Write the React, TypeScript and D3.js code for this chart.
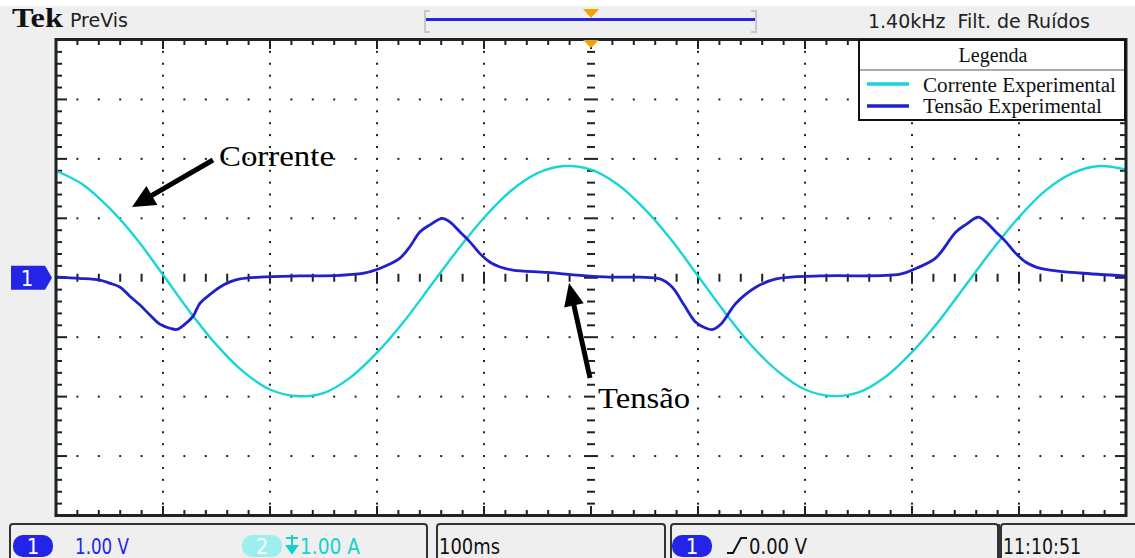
import React from "react";
import * as d3 from "d3";

// ---- data (time in ms across 10 divisions of 100 ms, amplitude in divisions) ----
const currentTime = [0, 25, 50, 75, 100, 125, 150, 175, 200, 225, 250, 275, 300, 325, 350, 375, 400, 425, 450, 475, 500, 525, 550, 575, 600, 625, 650, 675, 700, 725, 750, 775, 800, 825, 850, 875, 900, 925, 950, 975, 1000];
const currentValue = [1.80, 1.57, 1.17, 0.66, 0.05, -0.57, -1.13, -1.58, -1.88, -1.99, -1.94, -1.68, -1.26, -0.74, -0.14, 0.46, 1.01, 1.46, 1.76, 1.88, 1.82, 1.57, 1.16, 0.64, 0.03, -0.58, -1.14, -1.58, -1.88, -1.99, -1.93, -1.67, -1.25, -0.73, -0.13, 0.47, 1.02, 1.47, 1.76, 1.88, 1.82];

const voltageTime = [1, 22, 41, 50, 60, 69, 78.5, 88, 97, 106.5, 113, 120.5, 128, 134.5, 144, 153, 162.6, 172, 190.7, 228, 265, 289, 303, 312, 321.5, 331, 340, 349.5, 361, 368, 377.6, 387, 396, 405.6, 415, 427, 459, 490, 518, 546, 564.5, 576, 587, 598, 607.5, 614, 621.5, 635.5, 654, 673, 714, 789, 804, 822, 841, 850, 862, 869, 878.5, 888, 897, 906.5, 916, 929, 957, 999];
const voltageValue = [0.01, -0.01, -0.04, -0.09, -0.16, -0.31, -0.46, -0.63, -0.78, -0.85, -0.87, -0.78, -0.65, -0.43, -0.28, -0.16, -0.07, -0.02, 0.01, 0.03, 0.04, 0.08, 0.16, 0.23, 0.33, 0.53, 0.77, 0.89, 1.0, 0.94, 0.77, 0.6, 0.41, 0.26, 0.18, 0.13, 0.09, 0.04, 0.01, 0.01, -0.02, -0.16, -0.46, -0.75, -0.85, -0.87, -0.78, -0.43, -0.16, -0.02, 0.03, 0.06, 0.16, 0.33, 0.77, 0.89, 1.02, 0.94, 0.77, 0.6, 0.41, 0.26, 0.18, 0.13, 0.08, 0.03];

const seriesNames = ["Corrente Experimental", "Tensão Experimental"];
const legendTitle = "Legenda";
const headerLeft = "PreVis";
const headerRight = "1.40kHz  Filt. de Ruídos";
const ch1Scale = "1.00 V";
const ch2Scale = "1.00 A";
const timeBase = "100ms";
const triggerLevel = "0.00 V";
const clock = "11:10:51";

const CYAN = "#18d6d6";
const BLUE = "#2020cc";
const TEK_BLUE = "#2424e8";
const FRAME = "#1b2323";
const UI_FONT = "'Liberation Sans Narrow', 'DejaVu Sans Condensed', 'DejaVu Sans', sans-serif";
const SERIF = "'Liberation Serif', 'DejaVu Serif', serif";

const W = 1135;
const H = 558;

export default function App() {
  const x = d3.scaleLinear().domain([0, 1000]).range([56, 1126]);
  const y = d3.scaleLinear().domain([-4, 4]).range([515.5, 40]);

  const curData = currentTime.map((t, i) => [t, currentValue[i]] as [number, number]);
  const volData = voltageTime.map((t, i) => [t, voltageValue[i]] as [number, number]);
  const line = d3
    .line<[number, number]>()
    .x((d) => x(d[0]))
    .y((d) => y(d[1]))
    .curve(d3.curveCatmullRom.alpha(0.5));

  const majorT = d3.range(0, 1001, 100);
  const majorV = d3.range(-4, 4.01, 1);
  const minorT = d3.range(0, 1000.1, 20);
  const minorV = d3.range(-4, 4.001, 0.2).map((v) => Math.round(v * 10) / 10);

  const dots: JSX.Element[] = [];
  majorT.slice(1, -1).forEach((t) => {
    if (t === 500) return;
    minorV.slice(1, -1).forEach((v, j) => {
      dots.push(<rect key={`vd${t}-${j}`} x={x(t) - 1} y={y(v) - 1} width={2} height={2} fill="#222" />);
    });
  });
  majorV.slice(1, -1).forEach((v) => {
    if (v === 0) return;
    minorT.slice(1, -1).forEach((t, j) => {
      if (t % 100 === 0) return;
      dots.push(<rect key={`hd${v}-${j}`} x={x(t) - 1} y={y(v) - 1} width={2} height={2} fill="#222" />);
    });
  });

  const ticks: JSX.Element[] = [];
  minorT.slice(1, -1).forEach((t, j) => {
    const major = t % 100 === 0;
    const len = major ? 9 : 5;
    ticks.push(<line key={`tt${j}`} x1={x(t)} x2={x(t)} y1={40} y2={40 + len} stroke={FRAME} strokeWidth={2} />);
    ticks.push(<line key={`tb${j}`} x1={x(t)} x2={x(t)} y1={515} y2={515 - len} stroke={FRAME} strokeWidth={2} />);
    if (t !== 500) {
      ticks.push(<line key={`tc${j}`} x1={x(t)} x2={x(t)} y1={y(0) - (major ? 6 : 4)} y2={y(0) + (major ? 6 : 4)} stroke={FRAME} strokeWidth={2} />);
    }
  });
  minorV.slice(1, -1).forEach((v, j) => {
    const major = Math.abs(v - Math.round(v)) < 1e-6;
    const len = major ? 10 : 5;
    ticks.push(<line key={`tl${j}`} x1={57} x2={57 + len} y1={y(v)} y2={y(v)} stroke={FRAME} strokeWidth={2} />);
    ticks.push(<line key={`tr${j}`} x1={1125} x2={1125 - len} y1={y(v)} y2={y(v)} stroke={FRAME} strokeWidth={2} />);
    ticks.push(<line key={`tv${j}`} x1={x(500) - (major ? 7 : 4)} x2={x(500) + (major ? 7 : 4)} y1={y(v)} y2={y(v)} stroke={FRAME} strokeWidth={2} />);
  });

  const arrow = (x0: number, y0: number, x1: number, y1: number, hl: number, hw: number) => {
    const dx = x1 - x0, dy = y1 - y0;
    const L = Math.hypot(dx, dy);
    const ux = dx / L, uy = dy / L;
    const bx = x1 - ux * hl, by = y1 - uy * hl;
    const px = -uy, py = ux;
    const p = d3.path();
    p.moveTo(x1, y1);
    p.lineTo(bx + px * hw, by + py * hw);
    p.lineTo(bx - px * hw, by - py * hw);
    p.closePath();
    return (
      <g>
        <line x1={x0} y1={y0} x2={bx + ux * 2} y2={by + uy * 2} stroke="#000" strokeWidth={5} />
        <path d={p.toString()} fill="#000" />
      </g>
    );
  };

  const pill = (cx: number, cy: number, fill: string, label: string) => (
    <g>
      <rect x={cx - 20} y={cy - 11} width={40} height={22} rx={10} fill={fill} />
      <text x={cx} y={cy + 8} textAnchor="middle" fill="#fff" fontFamily={UI_FONT} fontSize={22}>
        {label}
      </text>
    </g>
  );

  return (
    <svg width={W} height={H} style={{ position: "absolute", left: 0, top: 0 }} xmlns="http://www.w3.org/2000/svg">
      <defs>
        <clipPath id="plotClip">
          <rect x={57} y={41} width={1068} height={474} />
        </clipPath>
      </defs>
      <rect x={0} y={0} width={W} height={H} fill="#efefef" />
      <rect x={0} y={0} width={W} height={6} fill="#fff" />

      {/* header */}
      <text x={12} y={27} fontFamily={SERIF} fontWeight="bold" fontSize={28} textLength={51} lengthAdjust="spacingAndGlyphs" fill="#111">
        Tek
      </text>
      <text x={70} y={27} fontFamily={UI_FONT} fontSize={20} textLength={58} lengthAdjust="spacingAndGlyphs" fill="#222">
        {headerLeft}
      </text>
      <text x={868} y={28} fontFamily={UI_FONT} fontSize={20} textLength={222} lengthAdjust="spacingAndGlyphs" fill="#222" style={{ whiteSpace: "pre" }}>
        {headerRight}
      </text>
      <path d="M430,11 L425,11 L425,32 L430,32" fill="none" stroke="#c8c8c8" strokeWidth={2} />
      <path d="M751,11 L756,11 L756,32 L751,32" fill="none" stroke="#c8c8c8" strokeWidth={2} />
      <line x1={426} x2={755} y1={19.5} y2={19.5} stroke={TEK_BLUE} strokeWidth={3} />
      <path d="M583,9 L599,9 L591,18 Z" fill="#f3a200" />

      {/* plot area */}
      <rect x={56} y={39} width={1070} height={477} fill="#fff" />
      <g>{dots}</g>
      <g>{ticks}</g>
      <g clipPath="url(#plotClip)">
        <path d={line(curData) || ""} fill="none" stroke={CYAN} strokeWidth={2.4} />
        <path d={line(volData) || ""} fill="none" stroke={BLUE} strokeWidth={2.8} />
      </g>
      <rect x={56} y={39.5} width={1070} height={476} fill="none" stroke={FRAME} strokeWidth={3} />
      <path d="M583,40 L599,40 L591,48 Z" fill="#f3a200" />

      {/* channel marker */}
      <path d={`M11,${y(0) - 12} L45,${y(0) - 12} L52,${y(0)} L45,${y(0) + 12} L11,${y(0) + 12} Z`} fill={TEK_BLUE} />
      <text x={27} y={y(0) + 8} textAnchor="middle" fill="#fff" fontFamily={UI_FONT} fontSize={22}>
        1
      </text>

      {/* legend */}
      <rect x={859} y={40} width={266} height={80} fill="#fff" stroke="#111" strokeWidth={2} />
      <line x1={860} x2={1124} y1={70} y2={70} stroke="#aaa" strokeWidth={2} />
      <text x={993} y={62} textAnchor="middle" fontFamily={SERIF} fontSize={20} fill="#111">
        {legendTitle}
      </text>
      <line x1={867} x2={909} y1={84} y2={84} stroke={CYAN} strokeWidth={3.5} />
      <line x1={867} x2={909} y1={106} y2={106} stroke={BLUE} strokeWidth={3.5} />
      <text x={923} y={92} fontFamily={SERIF} fontSize={20} textLength={193} lengthAdjust="spacingAndGlyphs" fill="#111">
        {seriesNames[0]}
      </text>
      <text x={923} y={113} fontFamily={SERIF} fontSize={20} textLength={179} lengthAdjust="spacingAndGlyphs" fill="#111">
        {seriesNames[1]}
      </text>

      {/* annotations */}
      <text x={219} y={166} fontFamily={SERIF} fontSize={30} textLength={115} lengthAdjust="spacingAndGlyphs" fill="#000">
        Corrente
      </text>
      {arrow(213, 160, 132, 207, 23, 11)}
      <rect x={595} y={380} width={98} height={34} fill="#fff" />
      <text x={598} y={408} fontFamily={SERIF} fontSize={30} textLength={92} lengthAdjust="spacingAndGlyphs" fill="#000">
        Tensão
      </text>
      {arrow(590, 378, 569, 283, 23, 10)}

      {/* bottom status bar */}
      <g fill="none" stroke="#333" strokeWidth={2}>
        <path d="M10,558 L10,527 Q10,524 13,524 L424,524 Q427,524 427,527 L427,558" />
        <path d="M437,558 L437,527 Q437,524 440,524 L662,524 Q665,524 665,527 L665,558" />
        <path d="M671,558 L671,527 Q671,524 674,524 L995,524 Q998,524 998,527 L998,558" />
        <path d="M1001,558 L1001,527 Q1001,524 1004,524 L1135,524" />
      </g>
      <line x1={998.5} x2={998.5} y1={524} y2={558} stroke="#333" strokeWidth={3} />
      {pill(33, 546, TEK_BLUE, "1")}
      <text x={75} y={554} fontFamily={UI_FONT} fontSize={21} textLength={54} lengthAdjust="spacingAndGlyphs" fill={TEK_BLUE}>
        {ch1Scale}
      </text>
      {pill(262, 546, "#9deeee", "2")}
      <path d="M286,538 L298,538 M292,535 L292,547 M287,546 L297,546 L292,553 Z" fill="#18cfcf" stroke="#18cfcf" strokeWidth={2} />
      <text x={300} y={554} fontFamily={UI_FONT} fontSize={21} textLength={60} lengthAdjust="spacingAndGlyphs" fill="#18cfcf">
        {ch2Scale}
      </text>
      <text x={439} y={554} fontFamily={UI_FONT} fontSize={21} textLength={61} lengthAdjust="spacingAndGlyphs" fill="#111">
        {timeBase}
      </text>
      {pill(692, 546, TEK_BLUE, "1")}
      <path d="M727,553 L733,553 L741,538 L747,538" fill="none" stroke="#111" strokeWidth={2} />
      <text x={749} y={554} fontFamily={UI_FONT} fontSize={21} textLength={58} lengthAdjust="spacingAndGlyphs" fill="#111">
        {triggerLevel}
      </text>
      <text x={1003} y={554} fontFamily={UI_FONT} fontSize={21} textLength={78} lengthAdjust="spacingAndGlyphs" fill="#111">
        {clock}
      </text>
    </svg>
  );
}
